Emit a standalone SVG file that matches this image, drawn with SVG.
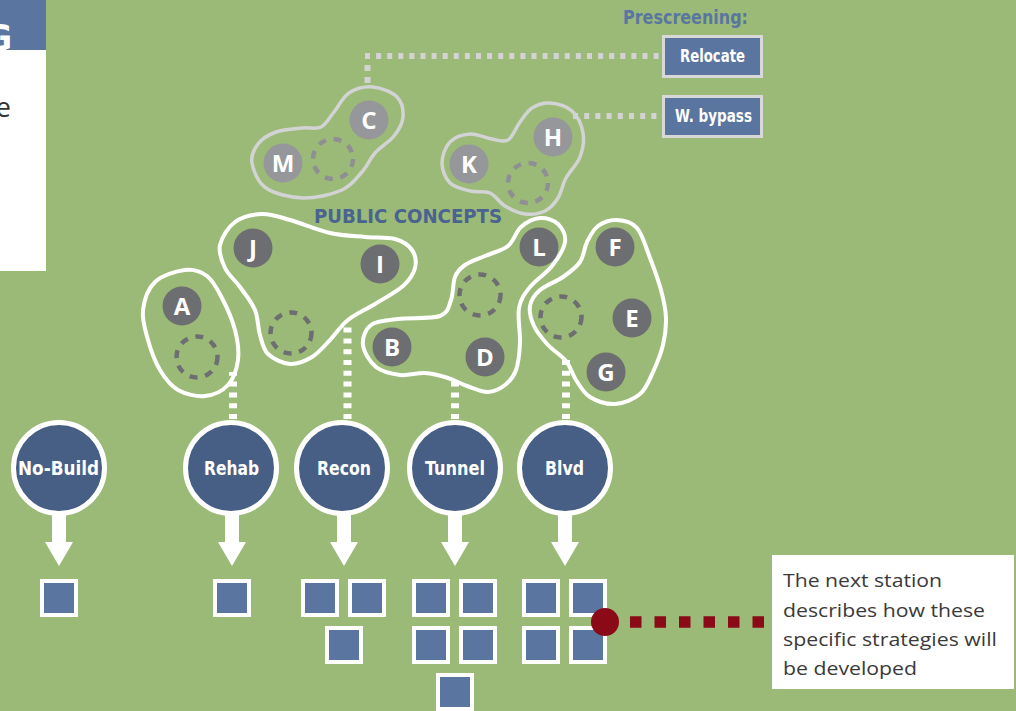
<svg xmlns="http://www.w3.org/2000/svg" width="1016" height="711" viewBox="0 0 1016 711">
<style>
.lbl{font-family:'DejaVu Sans Condensed','Liberation Sans Narrow','Liberation Sans',sans-serif;font-weight:bold;font-size:20px;fill:#fff;text-anchor:middle}
.box{font-family:'DejaVu Sans Condensed','Liberation Sans Narrow','Liberation Sans',sans-serif;font-weight:bold;font-size:17px;fill:#fff;text-anchor:middle}
.head{font-family:'DejaVu Sans Condensed','Liberation Sans Narrow','Liberation Sans',sans-serif;font-weight:bold}
.let{font-family:'Open Sans','Liberation Sans',sans-serif;font-weight:bold;font-size:24px;fill:#fff;text-anchor:middle}
.dk{fill:#6d6e71}
.lt{fill:#96979a}
.dashdk{fill:none;stroke:#6d6e71;stroke-width:4.5;stroke-dasharray:8 7.71}
.dashlt{fill:none;stroke:#8e8f93;stroke-width:4.5;stroke-dasharray:8 7.71}
.outw{fill:none;stroke:#fff;stroke-width:4}
.outg{fill:none;stroke:#d2d3d4;stroke-width:3.5}
.sq{fill:#5a76a0;stroke:#fff;stroke-width:4}
.big{fill:#475f84;stroke:#fff;stroke-width:5}
.arr{fill:#fff}
.pbox{fill:#5a76a0;stroke:#d8d8d8;stroke-width:3}
.body{font-family:'Open Sans','Liberation Sans',sans-serif;font-size:19px;fill:#3a3a3a}
.wdot{fill:none;stroke:#fff;stroke-width:8;stroke-dasharray:5 5.8}
.gdot{fill:none;stroke:#d3d3d3;stroke-width:6}
</style>
<rect x="0" y="0" width="1016" height="711" fill="#9cba77"/>

<g id="side-panel">
<rect x="0" y="0" width="46" height="50" fill="#5a76a0"/>
<text x="12" y="50" class="head" font-size="36" fill="#fff" text-anchor="end">G</text>
<rect x="0" y="50" width="46" height="221" fill="#fff"/>
<text x="11" y="117" font-family="'Open Sans',sans-serif" font-size="27" fill="#333" text-anchor="end">e</text>
</g>

<g id="connectors">
<line x1="365" y1="56" x2="660" y2="56" class="gdot" stroke-dasharray="5 6.1"/>
<line x1="367.5" y1="83" x2="367.5" y2="65" class="gdot" stroke-dasharray="6 6"/>
<line x1="573" y1="116" x2="658" y2="116" class="gdot" stroke-dasharray="5 6.2"/>
<line x1="233" y1="419" x2="233" y2="372" class="wdot"/>
<line x1="347.5" y1="419" x2="347.5" y2="324" class="wdot"/>
<line x1="455" y1="419" x2="455" y2="380" class="wdot"/>
<line x1="566" y1="419" x2="566" y2="360" class="wdot"/>
<line x1="630" y1="622" x2="766" y2="622" stroke="#8a0a17" stroke-width="11.5" stroke-dasharray="11.5 13"/>
</g>

<g id="prescreening">
<text x="623" y="23.5" class="head" font-size="19" fill="#5a76a0" textLength="125" lengthAdjust="spacingAndGlyphs">Prescreening:</text>
<g id="relocate"><rect x="663.5" y="36.5" width="98" height="40" class="pbox"/><text x="712.5" y="62" class="box" textLength="65" lengthAdjust="spacingAndGlyphs">Relocate</text></g>
<g id="wbypass"><rect x="663.5" y="96.5" width="98" height="40" class="pbox"/><text x="713.5" y="122" class="box" textLength="77" lengthAdjust="spacingAndGlyphs">W. bypass</text></g>
</g>

<g id="cluster-MC">
<path class="outg" d="M373,87 C381,87.7 392,92 397,97 S403.5,110.5 403,117 S398.7,130 394,136 S380.3,147 375,153 S367.5,165.8 362,172 S351.8,185.7 342,190 S315.7,198.3 303,198 S274.5,193.8 266,188 S253.3,170.3 252,163 S254,149.2 258,144 S268.7,134.7 276,132 S294.5,128.8 302,128 S315.7,129.7 321,127 S329.3,117.7 334,112 S342.5,97.2 349,93 S365,86.3 373,87 Z"/>
<circle cx="333" cy="159" r="20" class="dashlt"/>
<g id="node-C"><circle cx="369" cy="120" r="19.5" class="lt"/><text x="369" y="128.5" class="let">C</text></g>
<g id="node-M"><circle cx="283" cy="163" r="19.5" class="lt"/><text x="283" y="171.5" class="let">M</text></g>
</g>

<g id="cluster-KH">
<path class="outg" d="M550,103 C556.7,103.5 566.5,106 572,111 S581.7,125.3 583,133 S582.8,149.5 580,157 S569.7,171.2 566,178 S561.5,192.5 558,198 S550.5,208.3 545,211 S531.7,214.8 525,214 S510.8,209.5 505,206 S495.8,195.5 490,193 S476.7,192.7 470,191 S454.7,187.7 450,183 S442,169.8 442,163 S445.3,146.8 450,142 S463,134.5 470,134 S485.7,138 492,139 S503.3,142.8 508,140 S516,127.3 520,122 S527,111.2 532,108 S543.3,102.5 550,103 Z"/>
<circle cx="528" cy="183" r="20" class="dashlt"/>
<g id="node-K"><circle cx="469" cy="164" r="19.5" class="lt"/><text x="469" y="172.5" class="let">K</text></g>
<g id="node-H"><circle cx="553" cy="137" r="19.5" class="lt"/><text x="553" y="145.5" class="let">H</text></g>
</g>

<text x="314" y="223" class="head" font-size="20" fill="#4a6391" textLength="188" lengthAdjust="spacingAndGlyphs">PUBLIC CONCEPTS</text>

<g id="cluster-A">
<path class="outw" d="M185,270 C193.7,269 200.8,271.3 207,276 S217.3,289 222,298 S232.3,319.7 235,330 S239.2,350.8 238,360 S233.5,379 228,385 S213.3,395.2 205,396 S185.5,394.3 178,390 S165,378.3 160,370 S150.8,350 148,340 S141.8,319.7 143,310 S148,288.7 155,282 S176.3,271 185,270 Z"/>
<circle cx="197" cy="357" r="20.5" class="dashdk"/>
<g id="node-A"><circle cx="182" cy="306" r="19.5" class="dk"/><text x="182" y="314.5" class="let">A</text></g>
</g>

<g id="cluster-JI">
<path class="outw" d="M262,214 C271.2,213.7 278.7,216.8 290,220 S317.5,230.2 330,233 S354.2,236 365,237 S387.2,236.8 395,239 S408.7,245.2 412,250 S416.5,262 415,268 S409.7,280 403,286 S384.2,298.3 375,304 S355.5,314 348,320 S336,333.8 330,340 S318.7,353 312,357 S297.3,364.5 290,364 S273,358.8 268,354 S262.2,342.3 260,335 S258.3,318 255,310 S245,294 240,287 S228.3,275 225,268 S218.3,252.7 220,245 S228,227.2 235,222 S252.8,214.3 262,214 Z"/>
<circle cx="291" cy="333" r="20.5" class="dashdk"/>
<g id="node-J"><circle cx="253" cy="248" r="19.5" class="dk"/><text x="253" y="256.5" class="let">J</text></g>
<g id="node-I"><circle cx="380" cy="264" r="19.5" class="dk"/><text x="380" y="272.5" class="let">I</text></g>
</g>

<g id="cluster-BDL">
<path class="outw" d="M540,218 C546.2,217.5 553.8,220 558,224 S566,235 565,242 S557.8,258.5 552,266 S535.5,280 530,287 S520.7,298.7 519,308 S520.5,332.7 520,343 S518.5,363 516,370 S509.7,381.3 505,385 S494.3,391.8 488,392 S473.7,388.3 467,386 S455,380.2 448,378 S433,373.5 425,373 S408.2,376 400,375 S382.2,372 376,367 S363.8,352 363,345 S365.2,329.3 371,325 S386.5,320.5 398,319 S431.2,319.2 440,316 S448.5,306.5 451,300 S452.7,282.8 455,277 S460,268.5 465,265 S477.8,259.2 485,256 S502,250.8 508,246 S515.7,231.7 521,227 S533.8,218.5 540,218 Z"/>
<circle cx="480" cy="295" r="20.5" class="dashdk"/>
<g id="node-L"><circle cx="539" cy="247" r="19.5" class="dk"/><text x="539" y="255.5" class="let">L</text></g>
<g id="node-B"><circle cx="392" cy="347" r="19.5" class="dk"/><text x="392" y="355.5" class="let">B</text></g>
<g id="node-D"><circle cx="485" cy="357" r="19.5" class="dk"/><text x="485" y="365.5" class="let">D</text></g>
</g>

<g id="cluster-FEG">
<path class="outw" d="M617,220 C623.5,220.3 631.5,221.7 637,228 S646,247.7 650,258 S658.3,280 661,290 S665.7,308.8 666,318 S665.2,336 663,345 S656.8,363.8 653,372 S646.3,388.7 640,394 S623.3,403.5 615,404 S596.5,401 590,397 S580,386 576,380 S570.7,366.8 566,361 S553.3,350.8 548,345 S537,332.5 534,326 S529,312 530,306 S534.5,294.8 540,290 S556.3,281.7 563,277 S576,267.8 580,262 S584,248 587,242 S593,229.7 598,226 S610.5,219.7 617,220 Z"/>
<circle cx="561" cy="317" r="20.5" class="dashdk"/>
<g id="node-F"><circle cx="615" cy="247" r="19.5" class="dk"/><text x="615" y="255.5" class="let">F</text></g>
<g id="node-E"><circle cx="632" cy="318" r="19.5" class="dk"/><text x="632" y="326.5" class="let">E</text></g>
<g id="node-G"><circle cx="606" cy="372" r="19.5" class="dk"/><text x="606" y="380.5" class="let">G</text></g>
</g>

<g id="strategy-nobuild">
<polygon class="arr" points="52,505 66,505 66,542 73,542 59,566 45,542 52,542"/>
<circle cx="59" cy="468" r="45.5" class="big"/>
<text x="58.5" y="475" class="lbl" textLength="81" lengthAdjust="spacingAndGlyphs">No-Build</text>
<rect x="42" y="581" width="34" height="34" class="sq"/>
</g>
<g id="strategy-rehab">
<polygon class="arr" points="225,505 239,505 239,542 246,542 232,566 218,542 225,542"/>
<circle cx="231" cy="468" r="45.5" class="big"/>
<text x="231.5" y="475" class="lbl" textLength="55" lengthAdjust="spacingAndGlyphs">Rehab</text>
<rect x="215" y="581" width="34" height="34" class="sq"/>
</g>
<g id="strategy-recon">
<polygon class="arr" points="337,505 351,505 351,542 358,542 344,566 330,542 337,542"/>
<circle cx="342" cy="468" r="45.5" class="big"/>
<text x="344" y="475" class="lbl" textLength="54" lengthAdjust="spacingAndGlyphs">Recon</text>
<rect x="303" y="581" width="34" height="34" class="sq"/>
<rect x="350" y="581" width="34" height="34" class="sq"/>
<rect x="327" y="628" width="34" height="34" class="sq"/>
</g>
<g id="strategy-tunnel">
<polygon class="arr" points="448,505 462,505 462,542 469,542 455,566 441,542 448,542"/>
<circle cx="455" cy="468" r="45.5" class="big"/>
<text x="455" y="475" class="lbl" textLength="60" lengthAdjust="spacingAndGlyphs">Tunnel</text>
<rect x="414" y="581" width="34" height="34" class="sq"/>
<rect x="461" y="581" width="34" height="34" class="sq"/>
<rect x="414" y="628" width="34" height="34" class="sq"/>
<rect x="461" y="628" width="34" height="34" class="sq"/>
<rect x="438" y="675" width="34" height="34" class="sq"/>
</g>
<g id="strategy-blvd">
<polygon class="arr" points="558,505 572,505 572,542 579,542 565,566 551,542 558,542"/>
<circle cx="565" cy="468" r="45.5" class="big"/>
<text x="564.5" y="475" class="lbl" textLength="39" lengthAdjust="spacingAndGlyphs">Blvd</text>
<rect x="524" y="581" width="34" height="34" class="sq"/>
<rect x="571" y="581" width="34" height="34" class="sq"/>
<rect x="524" y="628" width="34" height="34" class="sq"/>
<rect x="571" y="628" width="34" height="34" class="sq"/>
</g>

<circle cx="605" cy="622" r="14" fill="#8a0a17"/>

<g id="note">
<rect x="772" y="555" width="242" height="134" fill="#fff"/>
<text class="body"><tspan x="783" y="587" textLength="159" lengthAdjust="spacingAndGlyphs">The next station</tspan><tspan x="783" y="616.5" textLength="202" lengthAdjust="spacingAndGlyphs">describes how these</tspan><tspan x="783" y="646" textLength="214" lengthAdjust="spacingAndGlyphs">specific strategies will</tspan><tspan x="783" y="675" textLength="134" lengthAdjust="spacingAndGlyphs">be developed</tspan></text>
</g>
</svg>
